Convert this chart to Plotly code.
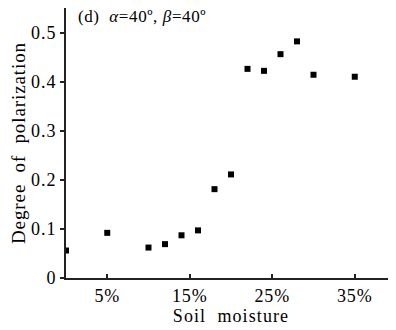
import plotly.graph_objects as go

moisture = [0, 5, 10, 12, 14, 16, 18, 20, 22, 24, 26, 28, 30, 35]
polarization = [0.056, 0.092, 0.062, 0.069, 0.087, 0.097, 0.181, 0.211, 0.426, 0.422, 0.456, 0.482, 0.414, 0.410]
x_ticks = [5, 15, 25, 35]
x_tick_labels = ["5%", "15%", "25%", "35%"]
y_ticks = [0, 0.1, 0.2, 0.3, 0.4, 0.5]
y_tick_labels = ["0", "0.1", "0.2", "0.3", "0.4", "0.5"]

font = "Liberation Serif"


def spaced(s, px):
    return f'<span style="letter-spacing:{px}px">{s}</span>'


fig = go.Figure()
fig.add_trace(go.Scatter(
    x=moisture, y=polarization, mode="markers",
    marker=dict(symbol="square", size=6, color="black"),
    cliponaxis=True, showlegend=False,
))

# page body has an 8px margin, so the figure is sized to fit the 396x330 window
fig.update_layout(
    width=388, height=322,
    margin=dict(l=58, r=0, t=0, b=52),
    paper_bgcolor="white", plot_bgcolor="white",
    font=dict(family=font, size=18, color="black"),
    xaxis=dict(
        range=[0, 40], tickvals=x_ticks, ticktext=[spaced(t, 0.8) for t in x_tick_labels],
        showgrid=False, zeroline=False, showline=True, linecolor="#222", linewidth=2,
        ticks="inside", ticklen=4, tickwidth=1.5, tickcolor="#222",
        title=dict(text=spaced("Soil\u00a0 moisture", 1.1),
                   font=dict(family=font, size=18), standoff=2),
        tickfont=dict(family=font, size=18),
        automargin=False,
    ),
    yaxis=dict(
        range=[0, 0.55], tickvals=y_ticks, ticktext=[spaced(t, 1) for t in y_tick_labels],
        showgrid=False, zeroline=False, showline=True, linecolor="#222", linewidth=2,
        ticks="outside", ticklen=4, tickwidth=1.5, tickcolor="#222",
        title=dict(text=spaced("Degree\u00a0 of\u00a0 polarization", 0.9),
                   font=dict(family=font, size=19), standoff=6),
        tickfont=dict(family=font, size=18),
        automargin=False,
    ),
    annotations=[dict(
        text=spaced("(d)\u00a0 <i>α</i>=40º, <i>β</i>=40º", 0.6),
        xref="paper", yref="paper", x=0.03, y=0.967, xanchor="left", yanchor="middle",
        showarrow=False, font=dict(family=font, size=17, color="black"),
    )],
)

fig.write_html("out.html")
